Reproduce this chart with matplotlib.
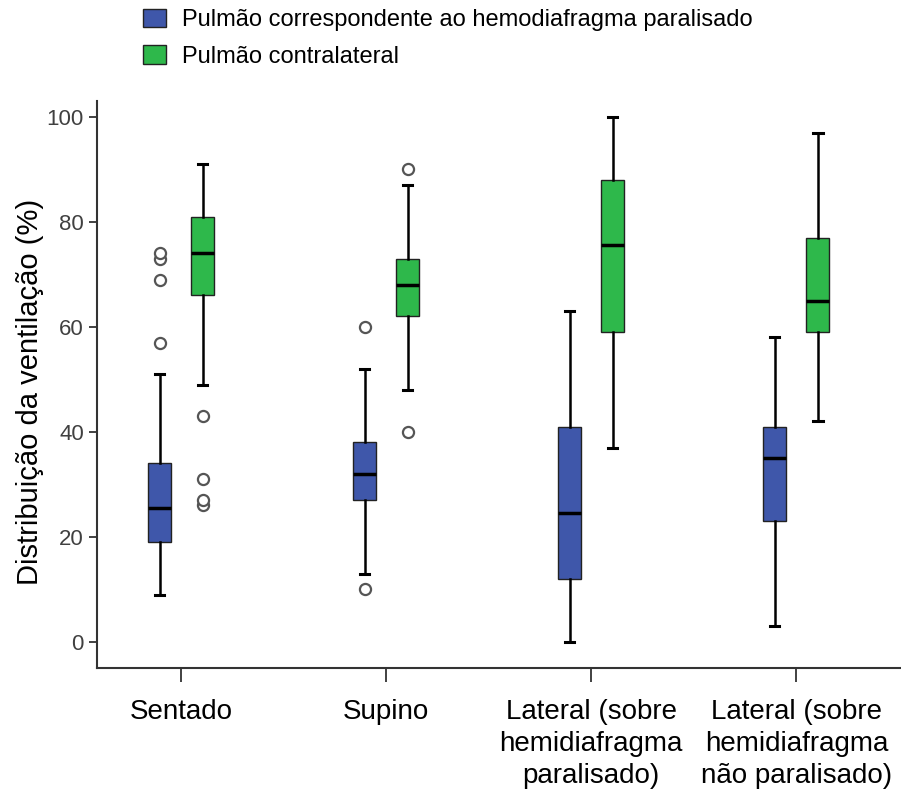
import matplotlib.pyplot as plt
from matplotlib.patches import Patch

plt.rcParams['font.family'] = ['Liberation Sans', 'DejaVu Sans']

positions = ['Sentado', 'Supino', 'Lateral (sobre\nhemidiafragma\nparalisado)',
             'Lateral (sobre\nhemidiafragma\nnão paralisado)']
series = ['Pulmão correspondente ao hemodiafragma paralisado', 'Pulmão contralateral']

# five-number summaries: whislo, q1, med, q3, whishi
paralisado = [
    [9, 19, 25.5, 34, 51],
    [13, 27, 32, 38, 52],
    [0, 12, 24.5, 41, 63],
    [3, 23, 35, 41, 58],
]
contralateral = [
    [49, 66, 74, 81, 91],
    [48, 62, 68, 73, 87],
    [37, 59, 75.5, 88, 100],
    [42, 59, 65, 77, 97],
]
outliers_paralisado = [[57, 69, 73, 74], [10, 60], [], []]
outliers_contralateral = [[26, 27, 31, 43], [40, 90], [], []]

colors = ['#3f57aa', '#2eb84b']


def make_stats(summary, outliers):
    stats = []
    for s, f in zip(summary, outliers):
        stats.append({'whislo': s[0], 'q1': s[1], 'med': s[2], 'q3': s[3],
                      'whishi': s[4], 'fliers': f})
    return stats


fig = plt.figure(figsize=(9.01, 7.93), dpi=100)
ax = fig.add_axes([0.1077, 0.1576, 0.8923, 0.715])

offset = 0.105
width = 0.112
for k, (summ, outl) in enumerate([(paralisado, outliers_paralisado),
                                  (contralateral, outliers_contralateral)]):
    pos = [i + (offset if k else -offset) for i in range(len(positions))]
    ax.bxp(make_stats(summ, outl), positions=pos, widths=width,
           patch_artist=True, manage_ticks=False,
           boxprops=dict(facecolor=colors[k], edgecolor='#222222', linewidth=1.0),
           medianprops=dict(color='black', linewidth=2.5),
           whiskerprops=dict(color='black', linewidth=1.8),
           capprops=dict(color='black', linewidth=2.2),
           capwidths=width * 0.4,
           flierprops=dict(marker='o', markerfacecolor='white',
                           markeredgecolor='#555555', markersize=8,
                           markeredgewidth=1.6))

ax.set_xlim(-0.41, 3.51)
ax.set_ylim(-5, 103)
ax.set_yticks([0, 20, 40, 60, 80, 100])
ax.set_xticks(range(len(positions)))
ax.set_xticklabels(positions, fontsize=20, linespacing=1.3)
ax.tick_params(axis='y', labelsize=16, labelcolor='#404040', length=6,
               width=1.3, color='#333333')
ax.tick_params(axis='x', length=10, width=1.3, color='#333333', pad=12)
ax.set_ylabel('Distribuição da ventilação (%)', fontsize=21)
ax.yaxis.set_label_coords(-0.066, 0.487)
for side in ['top', 'right']:
    ax.spines[side].set_visible(False)
for side in ['left', 'bottom']:
    ax.spines[side].set_color('#333333')
    ax.spines[side].set_linewidth(1.5)

handles = [Patch(facecolor=c, edgecolor='#222222') for c in colors]
fig.legend(handles, series, loc='upper left', bbox_to_anchor=(0.135, 1.016),
           frameon=False, fontsize=17, handlelength=0.97, handleheight=0.85,
           handletextpad=0.7, labelspacing=0.6)

fig.savefig('out.png', dpi=100)
